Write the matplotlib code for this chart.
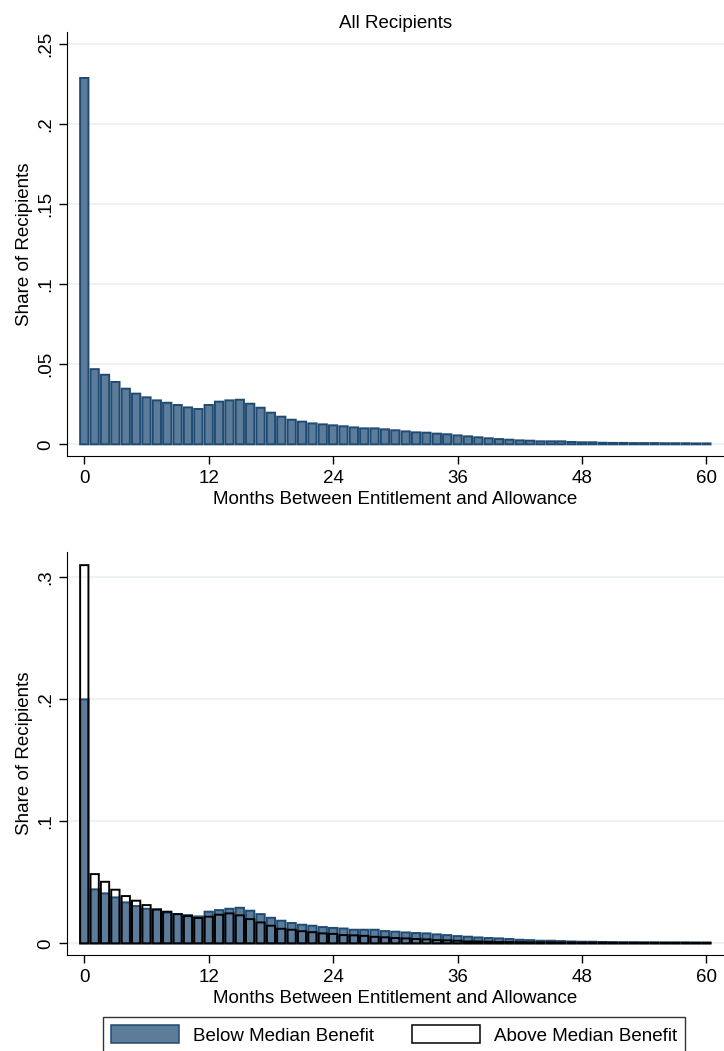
import matplotlib
matplotlib.use("Agg")
import matplotlib.pyplot as plt
from matplotlib.patches import Patch
import numpy as np

plt.rcParams['font.family'] = ['Liberation Sans', 'DejaVu Sans']

# Share of recipients by months between entitlement and allowance
months = np.arange(61)

all_share = [0.229, 0.047, 0.0435, 0.039, 0.0348, 0.0317, 0.0294, 0.0275, 0.026, 0.0246,
             0.0231, 0.0221, 0.0246, 0.0267, 0.0275, 0.0279, 0.0254, 0.0229, 0.0198, 0.0173,
             0.0154, 0.0142, 0.0131, 0.0125, 0.0119, 0.0113, 0.0106, 0.0100, 0.0100, 0.0094,
             0.0088, 0.0081, 0.0075, 0.0073, 0.0067, 0.0063, 0.0056, 0.0050, 0.0044, 0.0038,
             0.0033, 0.0029, 0.0025, 0.0023, 0.0019, 0.0019, 0.0019, 0.0015, 0.0013, 0.0013,
             0.0010, 0.0009, 0.0009, 0.0008, 0.0008, 0.0008, 0.0007, 0.0007, 0.0007, 0.0006,
             0.0006]

below_share = [0.200, 0.0443, 0.041, 0.0377, 0.0336, 0.0306, 0.0284, 0.0276, 0.0251, 0.024,
               0.0232, 0.0221, 0.026, 0.0273, 0.0284, 0.0292, 0.0268, 0.024, 0.021, 0.0186,
               0.0167, 0.0153, 0.0145, 0.0134, 0.0127, 0.0122, 0.0112, 0.0112, 0.0112, 0.0101,
               0.0096, 0.0090, 0.0085, 0.0082, 0.0074, 0.0068, 0.0060, 0.0055, 0.0049, 0.0044,
               0.0041, 0.0036, 0.0030, 0.0027, 0.0022, 0.0022, 0.0019, 0.0016, 0.0014, 0.0014,
               0.0012, 0.0011, 0.0010, 0.0010, 0.0009, 0.0009, 0.0008, 0.0008, 0.0008, 0.0007,
               0.0007]

above_share = [0.310, 0.0568, 0.0505, 0.044, 0.0388, 0.035, 0.0314, 0.0279, 0.026, 0.024,
               0.0224, 0.0208, 0.0219, 0.0235, 0.0246, 0.023, 0.0199, 0.0172, 0.0145, 0.012,
               0.0112, 0.0100, 0.0092, 0.0082, 0.0078, 0.0068, 0.0066, 0.0062, 0.0054, 0.0050,
               0.0044, 0.0041, 0.0036, 0.0033, 0.0027, 0.0025, 0.0022, 0.0016, 0.0016, 0.0014,
               0.0011, 0.0011, 0.0010, 0.0009, 0.0008, 0.0008, 0.0007, 0.0007, 0.0006, 0.0006,
               0.0006, 0.0005, 0.0005, 0.0005, 0.0005, 0.0005, 0.0005, 0.0005, 0.0005, 0.0005,
               0.0005]

month_ticks = [0, 12, 24, 36, 48, 60]
top_yticks = [0, 0.05, 0.1, 0.15, 0.2, 0.25]
top_ylabels = ['0', '.05', '.1', '.15', '.2', '.25']
bot_yticks = [0, 0.1, 0.2, 0.3]
bot_ylabels = ['0', '.1', '.2', '.3']

FILL = '#5d7c9a'
EDGE = '#1f4b73'
GRID = '#edf3f5'
FS = 13.5
BAR_W = 0.8
BAR_LW = 1.4


def style_axes(ax, yticks, ylabels, ylim):
    ax.set_xlim(-1.67, 61.7)
    ax.set_ylim(*ylim)
    ax.set_xticks(month_ticks)
    ax.set_yticks(yticks)
    ax.set_yticklabels(ylabels, rotation=90, va='center')
    ax.tick_params(axis='both', labelsize=FS, length=6, width=1, color='black')
    ax.tick_params(axis='x', pad=4)
    ax.tick_params(axis='y', pad=3)
    ax.spines['top'].set_visible(False)
    ax.spines['right'].set_visible(False)
    ax.grid(axis='y', color=GRID, linewidth=1.3)
    ax.set_axisbelow(True)
    ax.set_xlabel('Months Between Entitlement and Allowance', fontsize=FS, labelpad=3)
    ax.set_ylabel('Share of Recipients', fontsize=FS, labelpad=3)


fig = plt.figure(figsize=(7.24, 10.51), dpi=100)

# top panel: all recipients
ax1 = fig.add_axes([0.0925, 0.5661, 0.9075, 0.4034])
ax1.bar(months, all_share, width=BAR_W, color=FILL, edgecolor=EDGE,
        linewidth=BAR_LW, snap=False)
style_axes(ax1, top_yticks, top_ylabels, (-0.0073, 0.2577))
ax1.set_title('All Recipients', fontsize=FS, pad=3)

# bottom panel: below vs above median benefit, above drawn as outlines on top
ax2 = fig.add_axes([0.0925, 0.0910, 0.9075, 0.3837])
ax2.bar(months, below_share, width=BAR_W, color=FILL, edgecolor=EDGE,
        linewidth=BAR_LW, snap=False)
ax2.bar(months, above_share, width=BAR_W, facecolor='none', edgecolor='black',
        linewidth=BAR_LW, snap=False)
style_axes(ax2, bot_yticks, bot_ylabels, (-0.0098, 0.3207))

handles = [Patch(facecolor=FILL, edgecolor=EDGE, linewidth=1.1),
           Patch(facecolor='white', edgecolor='black', linewidth=1.1)]
leg = fig.legend(handles, ['Below Median Benefit', 'Above Median Benefit'],
                 ncol=2, loc='upper left', bbox_to_anchor=(102.7 / 724, 1 - 1017 / 1051),
                 fontsize=FS, frameon=True, fancybox=False, edgecolor='black',
                 handlelength=3.6, handleheight=1.05, handletextpad=0.75,
                 columnspacing=2.05, borderpad=0.45, borderaxespad=0)
leg.get_frame().set_linewidth(1.0)

fig.savefig('out.png', dpi=100)
